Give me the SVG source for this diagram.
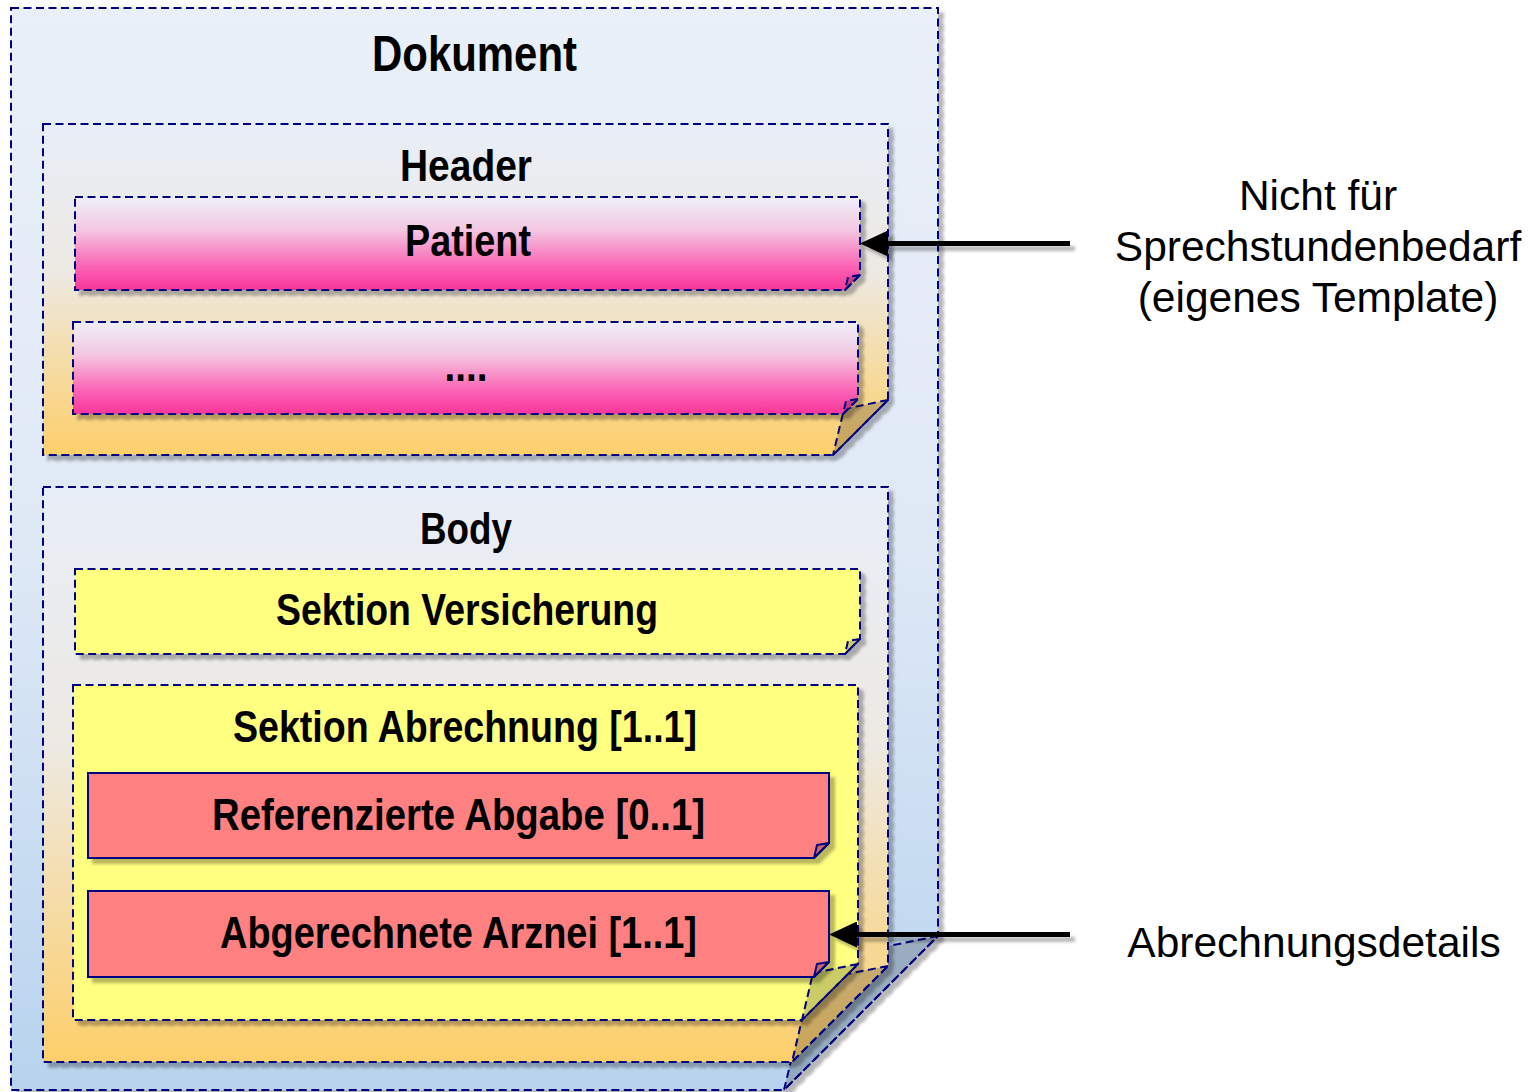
<svg xmlns="http://www.w3.org/2000/svg" width="1539" height="1092" viewBox="0 0 1539 1092">
<style>
.box{stroke:#000080;stroke-width:2;stroke-dasharray:8 4.5;filter:url(#sh)}
.solid{stroke:#000080;stroke-width:2;filter:url(#sh)}
.fold{fill:#000;fill-opacity:0.2;stroke:#000080;stroke-width:2;stroke-dasharray:8 4.5;stroke-linejoin:round}
.fold2{fill:#000;fill-opacity:0.2;stroke:#000080;stroke-width:2;stroke-linejoin:round}
.lbl{font-family:"Liberation Sans",Arial,sans-serif;font-weight:bold;text-anchor:middle;fill:#000}
.note{font-family:"Liberation Sans",Arial,sans-serif;font-size:42.5px;text-anchor:middle;fill:#000}
.conn{stroke:#000;stroke-width:5;fill:none;marker-end:url(#ah)}
</style>
<defs>
<filter id="sh" x="-5%" y="-5%" width="115%" height="115%">
<feDropShadow dx="5" dy="5" stdDeviation="1.5" flood-color="#000" flood-opacity="0.28"/>
</filter>
<linearGradient id="gDoc" x1="0" y1="0" x2="0" y2="1">
<stop offset="0" stop-color="#e9f0f9"/><stop offset="0.5" stop-color="#dfe9f6"/><stop offset="1" stop-color="#b8d3ee"/>
</linearGradient>
<linearGradient id="gSec" x1="0" y1="0" x2="0" y2="1">
<stop offset="0" stop-color="#e8eef8"/><stop offset="0.45" stop-color="#ede9e2"/><stop offset="1" stop-color="#fdcf6a"/>
</linearGradient>
<linearGradient id="gPink" x1="0" y1="0" x2="0" y2="1">
<stop offset="0" stop-color="#eeeff9"/><stop offset="0.35" stop-color="#f4c8e2"/><stop offset="0.75" stop-color="#fb62b4"/><stop offset="1" stop-color="#f8369b"/>
</linearGradient>
<marker id="ah" markerUnits="userSpaceOnUse" markerWidth="28" markerHeight="26" refX="18" refY="13" orient="auto">
<path d="M0,0 L28,13 L0,26 Z" fill="#000"/>
</marker>
</defs>

<g id="dokument">
<path class="box" d="M11,8 H938 V936 L784,1090 H11 Z" fill="url(#gDoc)"/>
<path class="fold" d="M938,936 L815,961 L784,1090 Z"/>
<text class="lbl" x="474.5" y="71" font-size="50" textLength="205" lengthAdjust="spacingAndGlyphs">Dokument</text>
</g>

<g id="header">
<path class="box" d="M43,124 H888 V400 L833,455 H43 Z" fill="url(#gSec)"/>
<path class="fold" d="M888,400 L844,409 L833,455 Z"/>
<text class="lbl" x="466" y="181" font-size="45" textLength="132" lengthAdjust="spacingAndGlyphs">Header</text>
</g>

<g id="patient">
<path class="box" d="M75,197 H860 V275 L845,290 H75 Z" fill="url(#gPink)"/>
<path class="fold" d="M860,275 L848,277 L845,290 Z"/>
<text class="lbl" x="468" y="256" font-size="45" textLength="126" lengthAdjust="spacingAndGlyphs">Patient</text>
</g>

<g id="weitere">
<path class="box" d="M73,322 H858 V399 L843,414 H73 Z" fill="url(#gPink)"/>
<path class="fold" d="M858,399 L846,401 L843,414 Z"/>
<text class="lbl" x="466" y="381" font-size="45" textLength="43" lengthAdjust="spacingAndGlyphs">....</text>
</g>

<g id="body">
<path class="box" d="M43,487 H888 V966 L792,1062 H43 Z" fill="url(#gSec)"/>
<path class="fold" d="M888,966 L811,981 L792,1062 Z"/>
<text class="lbl" x="466" y="544" font-size="45" textLength="92" lengthAdjust="spacingAndGlyphs">Body</text>
</g>

<g id="sektion-versicherung">
<path class="box" d="M75,569 H860 V639 L845,654 H75 Z" fill="#ffff80"/>
<path class="fold" d="M860,639 L848,641 L845,654 Z"/>
<text class="lbl" x="467" y="625" font-size="45" textLength="382" lengthAdjust="spacingAndGlyphs">Sektion Versicherung</text>
</g>

<g id="sektion-abrechnung">
<path class="box" d="M73,685 H858 V964 L802,1020 H73 Z" fill="#ffff80"/>
<path class="fold" d="M858,964 L813,973 L802,1020 Z"/>
<text class="lbl" x="465" y="742" font-size="45" textLength="464" lengthAdjust="spacingAndGlyphs">Sektion Abrechnung [1..1]</text>
</g>

<g id="referenzierte-abgabe">
<path class="solid" d="M88,773 H829 V843 L814,858 H88 Z" fill="#ff8080"/>
<path class="fold2" d="M829,843 L817,845 L814,858 Z"/>
<text class="lbl" x="458.5" y="830" font-size="45" textLength="493" lengthAdjust="spacingAndGlyphs">Referenzierte Abgabe [0..1]</text>
</g>

<g id="abgerechnete-arznei">
<path class="solid" d="M88,891 H829 V962 L814,977 H88 Z" fill="#ff8080"/>
<path class="fold2" d="M829,962 L817,964 L814,977 Z"/>
<text class="lbl" x="458.5" y="948" font-size="45" textLength="477" lengthAdjust="spacingAndGlyphs">Abgerechnete Arznei [1..1]</text>
</g>

<g id="note-template">
<text class="note" x="1318" y="210">Nicht für</text>
<text class="note" x="1318" y="261">Sprechstundenbedarf</text>
<text class="note" x="1318" y="312">(eigenes Template)</text>
</g>

<g id="note-details">
<text class="note" x="1314" y="957">Abrechnungsdetails</text>
</g>

<g id="connectors" filter="url(#sh)">
<line class="conn" x1="1070" y1="243.5" x2="870" y2="243.5"/>
<line class="conn" x1="1070" y1="934.5" x2="839" y2="934.5"/>
</g>
</svg>
